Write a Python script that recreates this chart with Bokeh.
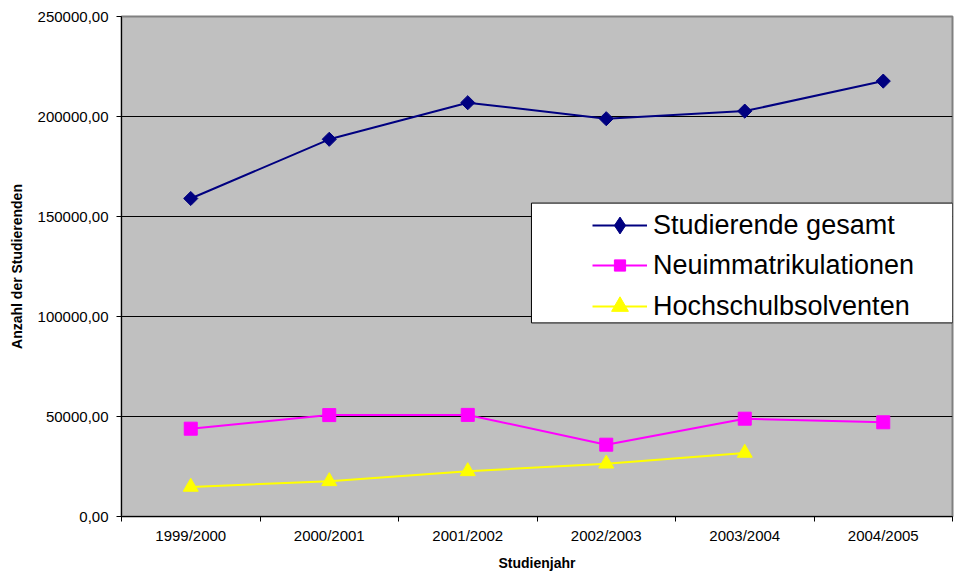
import math
from bokeh.plotting import figure
from bokeh.models import (Range1d, FixedTicker, Legend, LegendItem, BoxAnnotation,
                          ColumnDataSource)
from bokeh.embed import file_html
from bokeh.resources import INLINE

# ---- data ----
categories = ["1999/2000", "2000/2001", "2001/2002", "2002/2003", "2003/2004", "2004/2005"]
studierende = [159000, 188600, 206900, 198900, 202700, 217700]
neuimmatrikulationen = [43900, 50700, 50800, 35900, 48900, 47100]
absolventen = [14800, 17600, 22600, 26400, 31800]  # no value for 2004/2005
series_names = ["Studierende gesamt", "Neuimmatrikulationen", "Hochschulbsolventen"]
y_ticks = [0, 50000, 100000, 150000, 200000, 250000]
y_tick_labels = ["0,00", "50000,00", "100000,00", "150000,00", "200000,00", "250000,00"]

FONT = "Liberation Sans"
centers = [i + 0.5 for i in range(len(categories))]
bounds = [float(i) for i in range(len(categories) + 1)]

p = figure(width=955, height=573, output_backend="svg", toolbar_location=None,
           x_range=Range1d(0, len(categories)), y_range=Range1d(0, 250000),
           min_border_left=121, min_border_right=3, min_border_top=16, min_border_bottom=56)

p.border_fill_color = "white"
p.background_fill_color = "#C0C0C0"
p.outline_line_color = "#808080"
p.outline_line_width = 2

# x axis
p.xaxis.ticker = FixedTicker(ticks=centers, minor_ticks=bounds)
p.xaxis.major_label_overrides = {c: lab for c, lab in zip(centers, categories)}
p.xaxis.major_tick_out = 0
p.xaxis.major_tick_in = 0
p.xaxis.minor_tick_out = 5
p.xaxis.minor_tick_in = 0
p.xaxis.minor_tick_line_color = "black"
p.xaxis.axis_line_color = "black"
p.xaxis.major_label_text_font = FONT
p.xaxis.major_label_text_font_size = "15px"
p.xaxis.major_label_text_color = "black"
p.xaxis.major_label_standoff = 5
p.xaxis.axis_label = "Studienjahr"
p.xaxis.axis_label_text_font = FONT
p.xaxis.axis_label_text_font_size = "14px"
p.xaxis.axis_label_text_font_style = "bold"
p.xaxis.axis_label_text_color = "black"
p.xaxis.axis_label_standoff = 8

# y axis
p.yaxis.ticker = FixedTicker(ticks=y_ticks, minor_ticks=[])
p.yaxis.major_label_overrides = {t: lab for t, lab in zip(y_ticks, y_tick_labels)}
p.yaxis.major_tick_out = 5
p.yaxis.major_tick_in = 0
p.yaxis.major_tick_line_color = "black"
p.yaxis.axis_line_color = "black"
p.yaxis.major_label_text_font = FONT
p.yaxis.major_label_text_font_size = "15px"
p.yaxis.major_label_text_color = "black"
p.yaxis.major_label_standoff = 8
p.yaxis.axis_label = "Anzahl der Studierenden"
p.yaxis.axis_label_text_font = FONT
p.yaxis.axis_label_text_font_size = "14px"
p.yaxis.axis_label_text_font_style = "bold"
p.yaxis.axis_label_text_color = "black"
p.yaxis.axis_label_standoff = 10

p.xgrid.visible = False
p.ygrid.ticker = FixedTicker(ticks=y_ticks)
p.ygrid.grid_line_color = "black"
p.ygrid.grid_line_width = 1

# series
s1 = ColumnDataSource(dict(x=centers, y=studierende))
s2 = ColumnDataSource(dict(x=centers, y=neuimmatrikulationen))
s3 = ColumnDataSource(dict(x=centers[:len(absolventen)], y=absolventen))

l1 = p.line("x", "y", source=s1, line_color="#000080", line_width=2)
# legend-only diamond proxy: zero size in the plot, sized by the legend box
d1 = p.scatter("x", "y", source=s1, marker="diamond", size=0,
               fill_color="#000080", line_color="#000080")
m1 = p.scatter("x", "y", source=s1, marker="square", angle=math.pi / 4, size=10,
               fill_color="#000080", line_color="#000080")
l2 = p.line("x", "y", source=s2, line_color="#FF00FF", line_width=2)
m2 = p.scatter("x", "y", source=s2, marker="square", size=13,
               fill_color="#FF00FF", line_color="#FF00FF")
l3 = p.line("x", "y", source=s3, line_color="#FFFF00", line_width=2)
m3 = p.scatter("x", "y", source=s3, marker="triangle", size=15,
               fill_color="#FFFF00", line_color="#FFFF00")

# legend box
box = BoxAnnotation(left=2.96, right=None, top=156700, bottom=96800,
                    fill_color="white", fill_alpha=1.0,
                    line_color="black", line_width=1, line_alpha=1.0)
p.add_layout(box)


def make_legend(label, renderers, glyph_h, loc_y):
    lg = Legend(items=[LegendItem(label=label, renderers=renderers)], location=(471, loc_y))
    lg.padding = 0
    lg.margin = 0
    lg.spacing = 0
    lg.glyph_width = 55
    lg.glyph_height = glyph_h
    lg.label_height = 42
    lg.label_standoff = 6
    lg.label_text_font = FONT
    lg.label_text_font_size = "27px"
    lg.label_text_color = "black"
    lg.border_line_alpha = 0
    lg.background_fill_alpha = 0
    p.add_layout(lg, "center")


make_legend(series_names[0], [l1, d1], 42, 270)
make_legend(series_names[1], [l2, m2], 28, 230)
make_legend(series_names[2], [l3, m3], 42, 189)

open("out.html", "w").write(file_html(p, INLINE))
